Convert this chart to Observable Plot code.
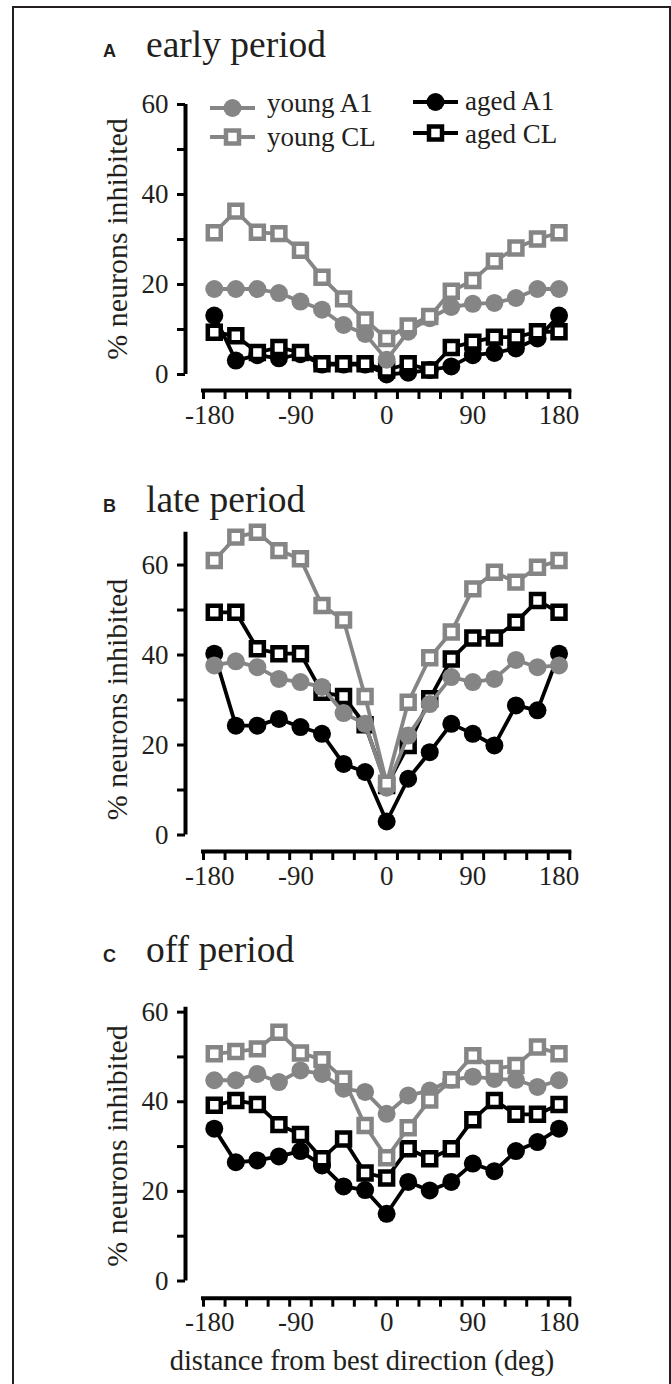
<!DOCTYPE html>
<html>
<head>
<meta charset="utf-8">
<script src="https://cdn.jsdelivr.net/npm/d3@7"></script>
<script src="https://cdn.jsdelivr.net/npm/@observablehq/plot@0.6"></script>
<style>
  html, body { margin: 0; padding: 0; background: #fff; }
  #root { position: relative; width: 671px; height: 1384px; overflow: hidden; background: #fff; }
  #root svg { position: absolute; left: 0; }
</style>
</head>
<body>
<div id="root"></div>
<script>
// ---- categories (distance from best direction, deg) ----
const directions = [-180, -157.5, -135, -112.5, -90, -67.5, -45, -22.5, 0, 22.5, 45, 67.5, 90, 112.5, 135, 157.5, 180];
const xTickLabelsNeg = [-180, -90];
const xTickLabelsPos = [0, 90, 180];
const xMinorTicks = [-191.25, -168.75, -146.25, -123.75, -101.25, -78.75, -56.25, -33.75, -11.25, 11.25, 33.75, 56.25, 78.75, 101.25, 123.75, 146.25, 168.75, 191.25];
const yTicks = [0, 10, 20, 30, 40, 50, 60];

// ---- A: early period ----
const earlyYoungA1 = [19.0, 19.0, 19.0, 18.1, 16.2, 14.4, 11.0, 9.0, 3.3, 9.5, 12.5, 15.0, 15.7, 15.9, 17.0, 19.0, 19.0];
const earlyYoungCL = [31.5, 36.3, 31.6, 31.3, 27.6, 21.6, 16.8, 12.1, 8.0, 10.8, 12.9, 18.5, 20.9, 25.2, 28.1, 30.1, 31.5];
const earlyAgedA1  = [13.1, 3.1, 4.3, 3.6, 4.5, 2.2, 2.2, 2.2, 0.0, 0.4, 1.0, 1.8, 4.3, 4.8, 5.8, 8.0, 13.1];
const earlyAgedCL  = [9.4, 8.6, 4.9, 6.0, 4.9, 2.4, 2.4, 2.4, 1.0, 2.4, 1.0, 6.0, 7.2, 8.3, 8.3, 9.5, 9.5];

// ---- B: late period ----
const lateYoungA1 = [37.7, 38.6, 37.3, 34.7, 34.0, 32.9, 27.1, 24.7, 10.5, 22.1, 29.1, 35.1, 34.0, 34.7, 38.9, 37.3, 37.7];
const lateYoungCL = [61.0, 66.2, 67.3, 63.2, 61.4, 51.0, 47.8, 30.8, 11.5, 29.5, 39.4, 45.1, 54.7, 58.4, 56.2, 59.5, 61.0];
const lateAgedA1  = [40.3, 24.3, 24.3, 25.8, 24.0, 22.5, 15.8, 14.0, 3.0, 12.5, 18.4, 24.7, 22.5, 19.9, 28.8, 27.7, 40.3];
const lateAgedCL  = [49.5, 49.5, 41.4, 40.3, 40.3, 31.7, 30.8, 24.5, 11.0, 19.9, 30.3, 39.1, 43.8, 43.8, 47.3, 52.1, 49.5];

// ---- C: off period ----
const offYoungA1 = [44.8, 44.8, 46.2, 44.4, 47.0, 46.2, 42.9, 42.2, 37.3, 41.4, 42.5, 44.9, 45.6, 45.1, 44.9, 43.3, 44.8];
const offYoungCL = [50.7, 51.2, 51.8, 55.5, 50.9, 49.4, 45.1, 34.7, 27.5, 34.2, 40.4, 44.9, 50.3, 47.4, 48.1, 52.2, 50.7];
const offAgedA1  = [34.0, 26.5, 26.9, 27.8, 29.0, 25.8, 21.1, 20.3, 15.0, 22.1, 20.2, 22.1, 26.2, 24.5, 29.0, 31.0, 34.0];
const offAgedCL  = [39.2, 40.3, 39.4, 34.9, 32.7, 27.3, 31.7, 24.1, 23.0, 29.5, 27.3, 29.5, 36.0, 40.3, 37.2, 37.2, 39.4];

const GRAY = "#858585";
const BLACK = "#000000";
const INK = "#231f20";
const SERIF = "'Liberation Serif', 'Times New Roman', serif";
const SANS = "'Liberation Sans', Arial, sans-serif";

const styleOf = {
  "aged A1":  {color: BLACK, shape: "circle"},
  "aged CL":  {color: BLACK, shape: "square"},
  "young A1": {color: GRAY,  shape: "circle"},
  "young CL": {color: GRAY,  shape: "square"}
};

function rows(values) {
  return directions.map((d, i) => ({dir: d, pct: values[i]}));
}

function seriesMarks(name, values) {
  const s = styleOf[name];
  const data = rows(values);
  const marks = [Plot.line(data, {x: "dir", y: "pct", stroke: s.color, strokeWidth: 3.8})];
  if (s.shape === "circle") {
    marks.push(Plot.dot(data, {x: "dir", y: "pct", r: 9, fill: s.color, stroke: "none"}));
  } else {
    marks.push(Plot.dot(data, {x: "dir", y: "pct", symbol: "square", r: 7.3, fill: "#fff", stroke: s.color, strokeWidth: 4.5}));
  }
  return marks;
}

function panel({top, height, marginTop, marginBottom, inset, yTop, series}) {
  const xExt = [xMinorTicks[0], xMinorTicks[xMinorTicks.length - 1]];
  const svg = Plot.plot({
    width: 671,
    height,
    marginLeft: 203,
    marginRight: 101.7,
    marginTop,
    marginBottom,
    x: {domain: xExt, axis: null, label: null},
    y: {domain: [0, yTop], insetBottom: inset, axis: null, label: null},
    style: {background: "transparent", overflow: "visible", fontFamily: SERIF, fontSize: "27px", color: "#000"},
    marks: [
      // x axis line + minor ticks
      Plot.ruleY([0], {x1: xExt[0], x2: xExt[1], dy: inset, stroke: "#000", strokeWidth: 4, strokeLinecap: "square"}),
      Plot.axisX(xMinorTicks, {anchor: "bottom", tickSize: 9, tickFormat: () => "", strokeWidth: 3, label: null}),
      Plot.axisX(xTickLabelsNeg, {anchor: "bottom", tickSize: 0, tickPadding: 14, dx: -4.5, tickFormat: d => String(d),
        fontSize: 27, fontFamily: SERIF, fill: INK, label: null}),
      Plot.axisX(xTickLabelsPos, {anchor: "bottom", tickSize: 0, tickPadding: 14, tickFormat: d => String(d),
        fontSize: 27, fontFamily: SERIF, fill: INK, label: null}),
      // y axis line + ticks
      Plot.ruleX([xExt[0]], {y1: 0, y2: yTop, dx: -18, stroke: "#000", strokeWidth: 4}),
      Plot.axisY(yTicks, {anchor: "left", tickSize: 8, tickPadding: 9, dx: -18, strokeWidth: 3,
        tickFormat: d => (d % 20 === 0 ? String(d) : ""), fontSize: 27, fontFamily: SERIF, fill: INK, label: null}),
      ...series.flatMap(([name, vals]) => seriesMarks(name, vals))
    ]
  });
  svg.style.top = top + "px";
  return svg;
}

const root = document.getElementById("root");

root.appendChild(panel({
  top: 70, height: 380, marginTop: 34, marginBottom: 60, inset: 16, yTop: 60,
  series: [["aged A1", earlyAgedA1], ["aged CL", earlyAgedCL], ["young A1", earlyYoungA1], ["young CL", earlyYoungCL]]
}));
root.appendChild(panel({
  top: 490, height: 420, marginTop: 41.7, marginBottom: 59, inset: 16.5, yTop: 67.3,
  series: [["aged A1", lateAgedA1], ["aged CL", lateAgedCL], ["young A1", lateYoungA1], ["young CL", lateYoungCL]]
}));
root.appendChild(panel({
  top: 950, height: 434, marginTop: 56.7, marginBottom: 86.3, inset: 17.2, yTop: 61.1,
  series: [["aged A1", offAgedA1], ["aged CL", offAgedCL], ["young A1", offYoungA1], ["young CL", offYoungCL]]
}));

// ---- text overlay: border, panel letters, titles, y labels, x title, legend ----
const overlay = d3.select(root).append("svg")
  .attr("width", 671).attr("height", 1384)
  .style("top", "0px");

overlay.append("path")
  .attr("d", "M13,1384 V7 H670 V1384")
  .attr("fill", "none").attr("stroke", INK).attr("stroke-width", 2);

const panelTitles = [
  {letter: "A", title: "early period", baseline: 57, yMid: 239},
  {letter: "B", title: "late period", baseline: 512, yMid: 699.5},
  {letter: "C", title: "off period", baseline: 962, yMid: 1146}
];
for (const p of panelTitles) {
  overlay.append("text").attr("x", 103).attr("y", p.baseline)
    .attr("font-family", SANS).attr("font-weight", "bold").attr("font-size", 18).attr("fill", INK).text(p.letter);
  overlay.append("text").attr("x", 146).attr("y", p.baseline)
    .attr("font-family", SERIF).attr("font-size", 37.5).attr("fill", INK).text(p.title);
  overlay.append("text").attr("transform", `translate(127,${p.yMid}) rotate(-90)`)
    .attr("text-anchor", "middle").attr("font-family", SERIF).attr("font-size", 30).attr("fill", INK)
    .text("% neurons inhibited");
}
overlay.append("text").attr("x", 362).attr("y", 1370).attr("text-anchor", "middle")
  .attr("font-family", SERIF).attr("font-size", 28.5).attr("fill", INK)
  .text("distance from best direction (deg)");

// legend
const legendItems = [
  {name: "young A1", x0: 210, x1: 255, ly: 108, tx: 267, ty: 112},
  {name: "young CL", x0: 210, x1: 255, ly: 137, tx: 267, ty: 146},
  {name: "aged A1",  x0: 413, x1: 458, ly: 102, tx: 465, ty: 110},
  {name: "aged CL",  x0: 413, x1: 458, ly: 133, tx: 465, ty: 143}
];
for (const it of legendItems) {
  const s = styleOf[it.name];
  const g = overlay.append("g");
  g.append("line").attr("x1", it.x0).attr("x2", it.x1).attr("y1", it.ly).attr("y2", it.ly)
    .attr("stroke", s.color).attr("stroke-width", 3.8);
  const cx = (it.x0 + it.x1) / 2;
  if (s.shape === "circle") {
    g.append("circle").attr("cx", cx).attr("cy", it.ly).attr("r", 9).attr("fill", s.color);
  } else {
    g.append("rect").attr("x", cx - 6.5).attr("y", it.ly - 6.5).attr("width", 13).attr("height", 13)
      .attr("fill", "#fff").attr("stroke", s.color).attr("stroke-width", 4.5);
  }
  g.append("text").attr("x", it.tx).attr("y", it.ty).attr("font-family", SERIF).attr("font-size", 27)
    .attr("fill", INK).text(it.name);
}
</script>
</body>
</html>
